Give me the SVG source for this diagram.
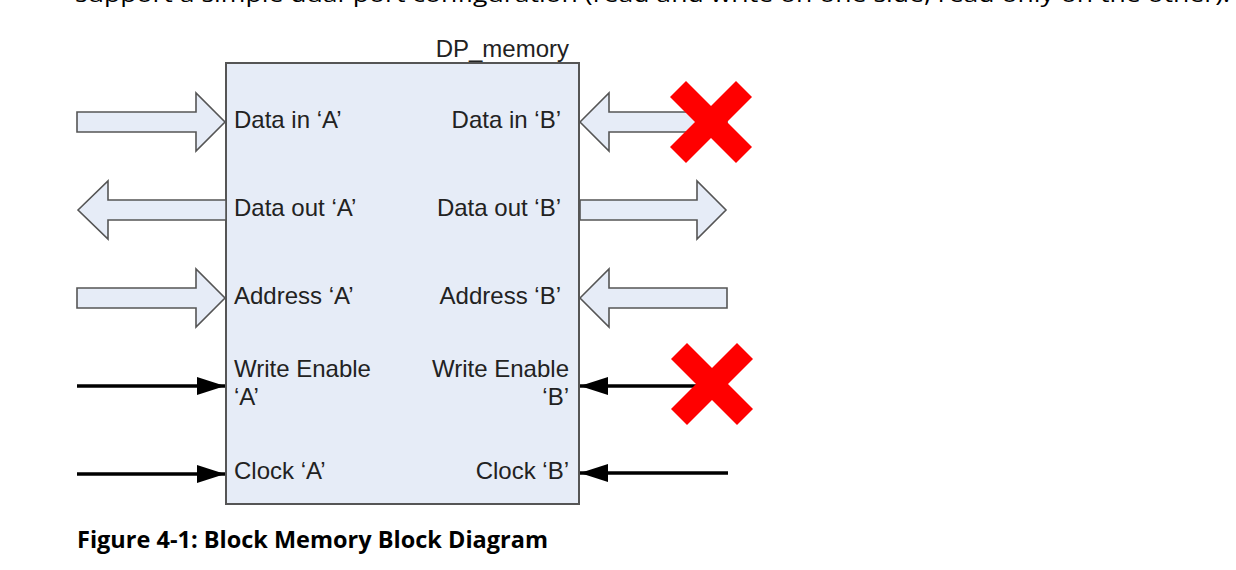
<svg xmlns="http://www.w3.org/2000/svg" width="1236" height="570" viewBox="0 0 1236 570">
  <style>
    .lbl { font-family: "Liberation Sans", Arial, sans-serif; font-size: 24px; fill: #222; }
    .end { text-anchor: end; }
    .bus { fill: #E6ECF7; stroke: #555; stroke-width: 1.6; stroke-linejoin: miter; }
    .sig { stroke: #000; stroke-width: 3.5; fill: none; }
    .cross { fill: #FF0000; }
  </style>
  <defs>
    <marker id="ah" markerUnits="userSpaceOnUse" markerWidth="28" markerHeight="18" refX="28" refY="9" orient="auto">
      <path d="M0,0 L28,9 L0,18 Z" fill="#000"/>
    </marker>
    <polygon id="x" points="0,-16 25,-41 41,-25 16,0 41,25 25,41 0,16 -25,41 -41,25 -16,0 -41,-25 -25,-41"/>
  </defs>
  <rect width="1236" height="570" fill="#fff"/>

  <text x="75" y="2" style="font-family: 'Open Sans', 'Liberation Sans', sans-serif; font-size: 21px; fill: #000;" textLength="1155" lengthAdjust="spacingAndGlyphs">support a simple dual-port configuration (read and write on one side, read only on the other).</text>

  <g id="dp_memory">
    <rect x="226" y="63" width="353" height="441" fill="#E6ECF7" stroke="#555" stroke-width="2"/>
    <text class="lbl end" x="569" y="57">DP_memory</text>
    <text class="lbl" x="234" y="128">Data in ‘A’</text>
    <text class="lbl end" x="561" y="128">Data in ‘B’</text>
    <text class="lbl" x="234" y="216">Data out ‘A’</text>
    <text class="lbl end" x="561" y="216">Data out ‘B’</text>
    <text class="lbl" x="234" y="304">Address ‘A’</text>
    <text class="lbl end" x="561" y="304">Address ‘B’</text>
    <text class="lbl" x="234" y="377">Write Enable</text>
    <text class="lbl" x="234" y="405">‘A’</text>
    <text class="lbl end" x="569" y="377">Write Enable</text>
    <text class="lbl end" x="569" y="405">‘B’</text>
    <text class="lbl" x="234" y="479">Clock ‘A’</text>
    <text class="lbl end" x="569" y="479">Clock ‘B’</text>
  </g>

  <g id="connectors">
    <polygon class="bus" points="77,112 196,112 196,93 225,122 196,151 196,132 77,132"/>
    <polygon class="bus" points="78,210 108,181 108,200 226,200 226,220 108,220 108,239"/>
    <polygon class="bus" points="77,288 196,288 196,269 225,298 196,327 196,308 77,308"/>
    <line class="sig" x1="77" y1="386" x2="225" y2="386" marker-end="url(#ah)"/>
    <line class="sig" x1="77" y1="474" x2="225" y2="474" marker-end="url(#ah)"/>

    <polygon class="bus" points="580,122 609,93 609,112 727,112 727,132 609,132 609,151"/>
    <polygon class="bus" points="580,200 697,200 697,181 726,210 697,239 697,220 580,220"/>
    <polygon class="bus" points="580,298 609,269 609,288 727,288 727,308 609,308 609,327"/>
    <line class="sig" x1="700" y1="386" x2="580" y2="386" marker-end="url(#ah)"/>
    <line class="sig" x1="728" y1="473" x2="580" y2="473" marker-end="url(#ah)"/>
  </g>

  <g id="crosses">
    <use href="#x" class="cross" x="711" y="122"/>
    <use href="#x" class="cross" x="712" y="384"/>
  </g>

  <text x="77" y="548" style="font-family: 'Open Sans', 'Liberation Sans', sans-serif; font-size: 23px; font-weight: bold; fill: #000;" textLength="471" lengthAdjust="spacingAndGlyphs">Figure 4-1: Block Memory Block Diagram</text>
</svg>
